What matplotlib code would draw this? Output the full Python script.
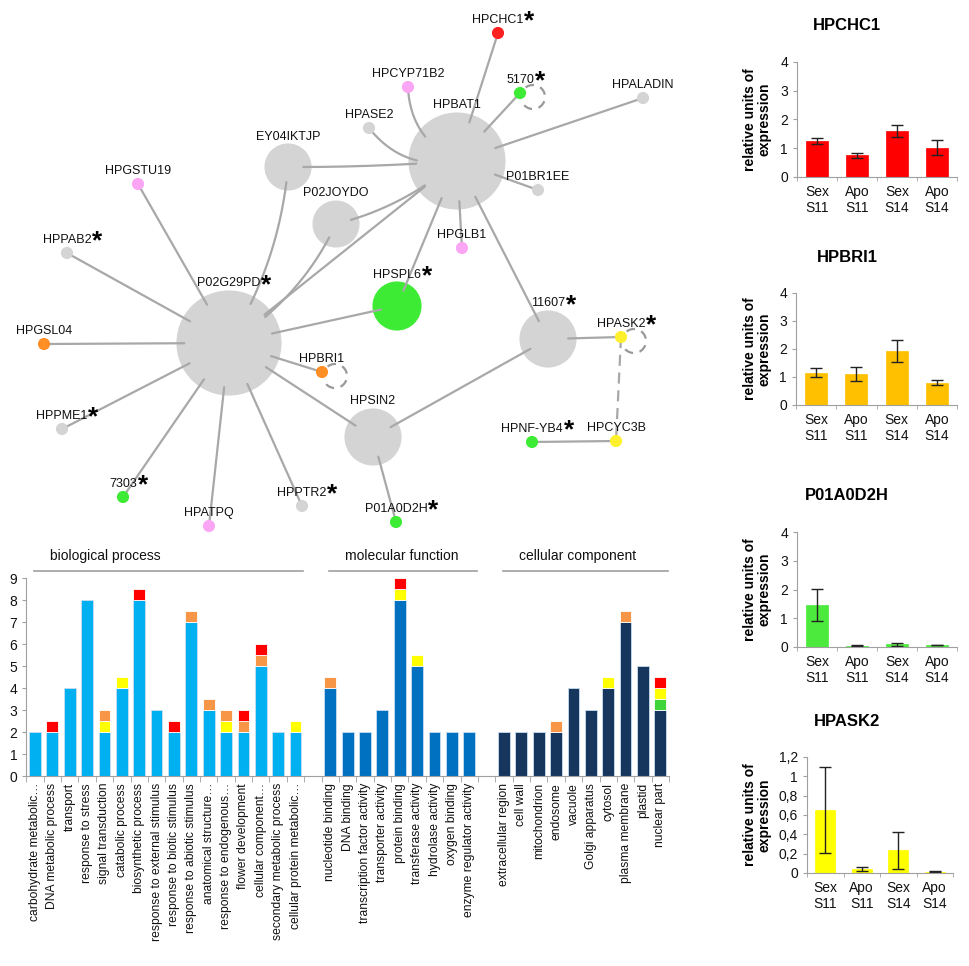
import numpy as np
import matplotlib.pyplot as plt
from matplotlib.patches import Circle, Arc

plt.rcParams['font.family'] = ['Liberation Sans', 'DejaVu Sans']

# ---------------- network (layout in pixels of the original figure) ----------------
node_names = ['P02G29PD', 'HPBAT1', 'EY04IKTJP', 'P02JOYDO', 'HPSPL6', '11607', 'HPSIN2',
              'HPCHC1', 'HPCYP71B2', '5170', 'HPALADIN', 'HPASE2', 'P01BR1EE', 'HPGLB1',
              'HPGSTU19', 'HPPAB2', 'HPGSL04', 'HPBRI1', 'HPPME1', '7303', 'HPATPQ',
              'HPPTR2', 'HPASK2', 'HPCYC3B', 'HPNF-YB4', 'P01A0D2H']
node_x = [229, 457, 288, 336, 397, 548, 373, 498, 408, 520, 643, 369, 538, 462,
          138, 67, 44, 322, 62, 123, 209, 302, 621, 616, 532, 396]
node_y = [343, 161, 167, 224, 306, 339, 437, 33, 87, 93, 98, 128, 190, 248,
          184, 253, 344, 372, 429, 497, 526, 506, 337, 441, 442, 522]
node_r = [52, 48, 23, 23, 24, 28, 28, 5.5, 5.5, 5.5, 5.5, 5.5, 5.5, 5.5,
          5.5, 5.5, 5.5, 5.5, 5.5, 5.5, 5.5, 5.5, 5.5, 5.5, 5.5, 5.5]
node_kind = ['grey', 'grey', 'grey', 'grey', 'green', 'grey', 'grey', 'red', 'pink', 'green',
             'grey', 'grey', 'grey', 'pink', 'pink', 'grey', 'orange', 'orange', 'grey',
             'green', 'pink', 'grey', 'yellow', 'yellow', 'green', 'green']
starred = ['P02G29PD', 'HPSPL6', '11607', 'HPCHC1', '5170', 'HPPAB2', 'HPPME1', '7303',
           'HPPTR2', 'HPASK2', 'HPNF-YB4', 'P01A0D2H']
self_loops = ['5170', 'HPBRI1', 'HPASK2']
edges = [('P02G29PD', 'HPPAB2'), ('P02G29PD', 'HPGSTU19'), ('P02G29PD', 'HPGSL04'),
         ('P02G29PD', 'HPBRI1'), ('P02G29PD', 'HPPME1'), ('P02G29PD', '7303'),
         ('P02G29PD', 'HPATPQ'), ('P02G29PD', 'HPPTR2'), ('P02G29PD', 'HPSIN2'),
         ('P02G29PD', 'HPSPL6'), ('P02G29PD', 'HPBAT1'), ('EY04IKTJP', 'P02G29PD'),
         ('P02JOYDO', 'P02G29PD'), ('EY04IKTJP', 'HPBAT1'), ('P02JOYDO', 'HPBAT1'),
         ('HPCHC1', 'HPBAT1'), ('HPCYP71B2', 'HPBAT1'), ('HPASE2', 'HPBAT1'),
         ('5170', 'HPBAT1'), ('HPALADIN', 'HPBAT1'), ('P01BR1EE', 'HPBAT1'),
         ('HPGLB1', 'HPBAT1'), ('HPSPL6', 'HPBAT1'), ('11607', 'HPBAT1'),
         ('HPASK2', '11607'), ('HPSIN2', '11607'), ('HPNF-YB4', 'HPCYC3B'),
         ('P01A0D2H', 'HPSIN2')]
dashed_edges = [('HPASK2', 'HPCYC3B')]
edge_bend = {('EY04IKTJP', 'P02G29PD'): -0.12, ('P02JOYDO', 'P02G29PD'): -0.15,
             ('EY04IKTJP', 'HPBAT1'): 0.02, ('P02JOYDO', 'HPBAT1'): 0.12,
             ('HPCYP71B2', 'HPBAT1'): 0.3, ('HPASE2', 'HPBAT1'): 0.3}

# ---------------- GO categories ----------------
bp_labels = ['carbohydrate metabolic…', 'DNA metabolic process', 'transport', 'response to stress',
             'signal transduction', 'catabolic process', 'biosynthetic process',
             'response to external stimulus', 'response to biotic stimulus',
             'response to abiotic stimulus', 'anatomical structure…', 'response to endogenous…',
             'flower development', 'cellular component…', 'secondary metabolic process',
             'cellular protein metabolic…']
bp_base = [2, 2, 4, 8, 2, 4, 8, 3, 2, 7, 3, 2, 2, 5, 2, 2]
bp_green = [0, 0, 0, 0, 0, 0, 0, 0, 0, 0, 0, 0, 0, 0, 0, 0]
bp_yellow = [0, 0, 0, 0, 0.5, 0.5, 0, 0, 0, 0, 0, 0.5, 0, 0, 0, 0.5]
bp_orange = [0, 0, 0, 0, 0.5, 0, 0, 0, 0, 0.5, 0.5, 0.5, 0.5, 0.5, 0, 0]
bp_red = [0, 0.5, 0, 0, 0, 0, 0.5, 0, 0.5, 0, 0, 0, 0.5, 0.5, 0, 0]

mf_labels = ['nucleotide binding', 'DNA binding', 'transcription factor activity',
             'transporter activity', 'protein binding', 'transferase activity',
             'hydrolase activity', 'oxygen binding', 'enzyme regulator activity']
mf_base = [4, 2, 2, 3, 8, 5, 2, 2, 2]
mf_green = [0, 0, 0, 0, 0, 0, 0, 0, 0]
mf_yellow = [0, 0, 0, 0, 0.5, 0.5, 0, 0, 0]
mf_orange = [0.5, 0, 0, 0, 0, 0, 0, 0, 0]
mf_red = [0, 0, 0, 0, 0.5, 0, 0, 0, 0]

cc_labels = ['extracellular region', 'cell wall', 'mitochondrion', 'endosome', 'vacuole',
             'Golgi apparatus', 'cytosol', 'plasma membrane', 'plastid', 'nuclear part']
cc_base = [2, 2, 2, 2, 4, 3, 4, 7, 5, 3]
cc_green = [0, 0, 0, 0, 0, 0, 0, 0, 0, 0.5]
cc_yellow = [0, 0, 0, 0, 0, 0, 0.5, 0, 0, 0.5]
cc_orange = [0, 0, 0, 0.5, 0, 0, 0, 0.5, 0, 0]
cc_red = [0, 0, 0, 0, 0, 0, 0, 0, 0, 0.5]

# ---------------- qPCR ----------------
expr_groups = ['Sex\nS11', 'Apo\nS11', 'Sex\nS14', 'Apo\nS14']
hpchc1_mean = [1.25, 0.75, 1.6, 1.02]
hpchc1_err = [0.11, 0.1, 0.2, 0.27]
hpbri1_mean = [1.15, 1.1, 1.93, 0.8]
hpbri1_err = [0.16, 0.25, 0.38, 0.09]
p01a0d2h_mean = [1.47, 0.04, 0.1, 0.07]
p01a0d2h_err = [0.55, 0.015, 0.05, 0.015]
hpask2_mean = [0.65, 0.045, 0.235, 0.012]
hpask2_err = [0.445, 0.02, 0.19, 0.005]

node_colors = {'grey': '#D4D4D4', 'pink': '#FBA6F4', 'green': '#3DEB34', 'red': '#FF2121',
               'orange': '#FF8E24', 'yellow': '#FFF02E'}
edge_col = '#A8A8A8'

W, H = 969, 966
fig = plt.figure(figsize=(W / 100, H / 100), dpi=100)

# ================= network =================
net_w, net_h = 700, 545
axn = fig.add_axes([0, 1 - net_h / H, net_w / W, net_h / H])
axn.set_xlim(0, net_w)
axn.set_ylim(net_h, 0)
axn.axis('off')

pos = {n: (x, y, r) for n, x, y, r in zip(node_names, node_x, node_y, node_r)}


def draw_edge(a, b, bend=0.0, dashed=False):
    xa, ya, ra = pos[a]
    xb, yb, rb = pos[b]
    p0 = np.array([xa, ya])
    p1 = np.array([xb, yb])
    d = p1 - p0
    L = np.hypot(*d)
    nrm = np.array([-d[1], d[0]]) / L
    ctrl = (p0 + p1) / 2 + bend * L * nrm
    t = np.linspace(0, 1, 200)[:, None]
    pts = (1 - t) ** 2 * p0 + 2 * (1 - t) * t * ctrl + t ** 2 * p1
    ia = ra - 8 if ra > 10 else 0
    ib = rb - 8 if rb > 10 else 0
    keep = (np.hypot(*(pts - p0).T) >= ia) & (np.hypot(*(pts - p1).T) >= ib)
    pts = pts[keep]
    axn.plot(pts[:, 0], pts[:, 1], color=edge_col, lw=1.6, zorder=2,
             ls=(0, (5, 3)) if dashed else '-', solid_capstyle='round')


for a, b in edges:
    draw_edge(a, b, edge_bend.get((a, b), 0.0))
for a, b in dashed_edges:
    draw_edge(a, b, dashed=True)

for n, x, y, r, k in zip(node_names, node_x, node_y, node_r, node_kind):
    col = node_colors[k]
    axn.add_patch(Circle((x, y), r, facecolor=col, edgecolor=col, lw=0.8,
                         zorder=1 if r > 10 else 3))
    t = axn.text(x, y - r - 7.5, n, ha='center', va='center', fontsize=9, color='#111111',
                 zorder=5)
    if n in starred:
        axn.annotate('*', xy=(1, 0.5), xycoords=t, xytext=(0.5, -1), textcoords='offset points',
                     ha='left', va='center', fontsize=19, fontweight='bold', color='black')

for n in self_loops:
    x, y, r = pos[n]
    cx, cy = x + 13, y + 4
    ang = np.degrees(np.arctan2(y - cy, x - cx))
    axn.add_patch(Arc((cx, cy), 24, 24, theta1=ang + 35, theta2=ang + 325,
                      color='#999999', lw=1.6, ls=(0, (4, 3)), zorder=2))

# ================= GO bar chart =================
axb = fig.add_axes([26.3 / W, (H - 776) / H, 642.7 / W, 198 / H])
groups = [(bp_labels, bp_base, bp_green, bp_yellow, bp_orange, bp_red, '#00B0F0', 'biological process'),
          (mf_labels, mf_base, mf_green, mf_yellow, mf_orange, mf_red, '#0070C0', 'molecular function'),
          (cc_labels, cc_base, cc_green, cc_yellow, cc_orange, cc_red, '#17365D', 'cellular component')]
seg_cols = ['#3ED43A', '#FFFF00', '#F79646', '#FF0000']
start = 0
all_pos, all_labels = [], []
for labels, base, gr, ye, orr, re, col, title in groups:
    xs = np.arange(start, start + len(labels))
    axb.bar(xs, base, width=0.68, color=col, edgecolor='#C9DDF0', lw=0.6)
    bottom = np.array(base, dtype=float)
    for seg, sc in zip([gr, ye, orr, re], seg_cols):
        seg = np.array(seg, dtype=float)
        m = seg > 0
        axb.bar(xs[m], seg[m], bottom=bottom[m], width=0.68, color=sc, edgecolor='white', lw=0.6)
        bottom = bottom + seg
    axb.plot([xs[0] - 0.05, xs[-1] + 0.45], [9.33, 9.33], color='#A0A0A0', lw=1.2, clip_on=False)
    axb.text(xs[0] + 0.85, 9.98, title, ha='left', va='center', fontsize=10, color='#111111')
    all_pos += list(xs)
    all_labels += labels
    start += len(labels) + 1

axb.set_xlim(-0.5, start - 1.5)
axb.set_ylim(0, 9)
axb.set_yticks(range(10))
axb.set_xticks(all_pos)
axb.set_xticklabels(all_labels, rotation=90, fontsize=8.7, color='#111111')
axb.set_xticks(np.arange(-0.5, start - 1, 1), minor=True)
axb.tick_params(axis='x', which='major', length=0, pad=5)
axb.tick_params(axis='x', which='minor', length=4, color='#A0A0A0')
axb.tick_params(axis='y', labelsize=10, length=3, color='#A0A0A0', labelcolor='#111111')
for s in ['top', 'right']:
    axb.spines[s].set_visible(False)
for s in ['left', 'bottom']:
    axb.spines[s].set_color('#A0A0A0')

# ================= qPCR panels =================
panels = [('HPCHC1', hpchc1_mean, hpchc1_err, '#FF0000', [797, 62, 160, 115], 4, 26),
          ('HPBRI1', hpbri1_mean, hpbri1_err, '#FFC000', [796, 293, 161, 112], 4, 257),
          ('P01A0D2H', p01a0d2h_mean, p01a0d2h_err, '#4CEA3C', [797, 532, 160, 115], 4, 495),
          ('HPASK2', hpask2_mean, hpask2_err, '#FFFF00', [807, 757, 146, 116], 1.2, 721)]
for name, mean, err, col, (px, py, pw, ph), ymax, ty in panels:
    ax = fig.add_axes([px / W, (H - py - ph) / H, pw / W, ph / H])
    xs = np.arange(len(expr_groups))
    ax.bar(xs, mean, width=0.55, color=col, edgecolor=col, lw=0.5)
    ax.errorbar(xs, mean, yerr=err, fmt='none', ecolor='#222222', elinewidth=1, capsize=4,
                capthick=1)
    ax.set_xlim(-0.5, 3.42)
    ax.set_ylim(0, ymax)
    if ymax == 4:
        ax.set_yticks([0, 1, 2, 3, 4])
    else:
        ticks = [0, 0.2, 0.4, 0.6, 0.8, 1.0, 1.2]
        ax.set_yticks(ticks)
        ax.set_yticklabels([('%g' % v).replace('.', ',') for v in ticks])
    ax.set_xticks(xs)
    ax.set_xticklabels(expr_groups, fontsize=10, linespacing=1.15, color='#111111')
    ax.set_xticks(np.arange(-0.5, 4, 1), minor=True)
    ax.tick_params(axis='x', which='major', length=0, pad=6)
    ax.tick_params(axis='x', which='minor', length=3, color='#A0A0A0')
    ax.tick_params(axis='y', labelsize=10, length=3, color='#A0A0A0', labelcolor='#111111')
    for s in ['top', 'right']:
        ax.spines[s].set_visible(False)
    for s in ['left', 'bottom']:
        ax.spines[s].set_color('#A0A0A0')
    ax.set_ylabel('relative units of\nexpression', fontsize=10, fontweight='bold',
                  linespacing=1.05)
    ax.yaxis.set_label_coords((772 - px) / pw, 0.5)
    fig.text(847 / W, 1 - ty / H, name, ha='center', va='center', fontsize=12,
             fontweight='bold')

fig.savefig('out.png', dpi=100)
